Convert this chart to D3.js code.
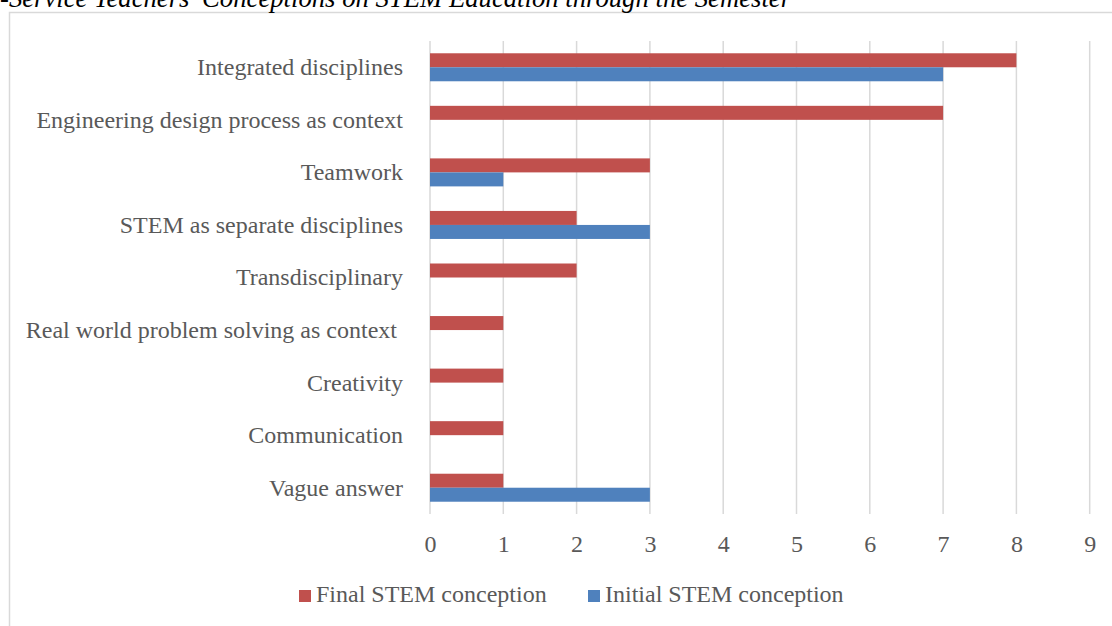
<!DOCTYPE html>
<html>
<head>
<meta charset="utf-8">
<script src="https://cdn.jsdelivr.net/npm/d3@7"></script>
<style>
  html, body { margin: 0; padding: 0; background: #fff; overflow: hidden; }
  svg { display: block; }
  text { font-family: "Liberation Serif", "Times New Roman", serif; }
</style>
</head>
<body>
<script>
const categories = [
  "Integrated disciplines",
  "Engineering design process as context",
  "Teamwork",
  "STEM as separate disciplines",
  "Transdisciplinary",
  "Real world problem solving as context ",
  "Creativity",
  "Communication",
  "Vague answer"
];
const finalValues   = [8, 7, 3, 2, 2, 1, 1, 1, 1];
const initialValues = [7, 0, 1, 3, 0, 0, 0, 0, 3];
const xTicks = [0, 1, 2, 3, 4, 5, 6, 7, 8, 9];
const seriesNames = ["Final STEM conception", "Initial STEM conception"];
const seriesColors = ["#c0504d", "#4f81bd"];
const titleText = "-Service Teachers\u2019 Conceptions on STEM Education through the Semester";

const W = 1112, H = 626;
const svg = d3.select("body").append("svg").attr("width", W).attr("height", H);

// frame
svg.append("rect").attr("x", 9.5).attr("y", 12.5).attr("width", W + 20).attr("height", H + 20)
  .attr("fill", "none").attr("stroke", "#d9d9d9").attr("stroke-width", 1.5);

// title (clipped by the page top, as in the reference)
svg.append("text").attr("x", 0).attr("y", 7)
  .attr("font-size", 26.7).attr("font-style", "italic").attr("fill", "#000")
  .text(titleText);

const x = d3.scaleLinear().domain([0, 9]).range([430, 1089.7]);
const y = d3.scaleBand().domain(categories).range([41, 514]).paddingInner(0).paddingOuter(0);
const barH = 14;

// gridlines
svg.append("g").selectAll("line").data(xTicks).join("line")
  .attr("x1", d => x(d)).attr("x2", d => x(d))
  .attr("y1", 41).attr("y2", 514)
  .attr("stroke", "#d9d9d9").attr("stroke-width", 1.5);

// bars
const rows = categories.map((c, i) => ({ c, f: finalValues[i], ini: initialValues[i] }));
const gBars = svg.append("g");
gBars.selectAll("rect.final").data(rows.filter(d => d.f > 0)).join("rect")
  .attr("class", "final")
  .attr("x", x(0)).attr("width", d => x(d.f) - x(0))
  .attr("y", d => y(d.c) + y.bandwidth() / 2 - barH).attr("height", barH)
  .attr("fill", seriesColors[0]);
gBars.selectAll("rect.initial").data(rows.filter(d => d.ini > 0)).join("rect")
  .attr("class", "initial")
  .attr("x", x(0)).attr("width", d => x(d.ini) - x(0))
  .attr("y", d => y(d.c) + y.bandwidth() / 2).attr("height", barH)
  .attr("fill", seriesColors[1]);

// category labels
const yAxis = d3.axisLeft(y).tickSize(0).tickPadding(0);
const gy = svg.append("g").attr("transform", "translate(403,0)").call(yAxis);
gy.select(".domain").remove();
gy.selectAll("text").attr("font-size", 24).attr("fill", "#595959")
  .attr("font-family", "Liberation Serif, Times New Roman, serif")
  .style("white-space", "pre").attr("dy", "0.33em").attr("x", 0);

// x axis labels
const xAxis = d3.axisBottom(x).tickValues(xTicks).tickSize(0).tickPadding(0).tickFormat(d3.format("d"));
const gx = svg.append("g").attr("transform", "translate(0,552)").call(xAxis);
gx.select(".domain").remove();
gx.selectAll("text").attr("font-size", 24).attr("fill", "#595959")
  .attr("font-family", "Liberation Serif, Times New Roman, serif")
  .attr("dy", 0).attr("y", 0);

// legend
const legendX = [299, 588];
const lg = svg.append("g");
seriesNames.forEach((name, i) => {
  lg.append("rect").attr("x", legendX[i]).attr("y", 590).attr("width", 12).attr("height", 12)
    .attr("fill", seriesColors[i]);
  lg.append("text").attr("x", legendX[i] + 17).attr("y", 602)
    .attr("font-size", 24).attr("fill", "#595959").text(name);
});
</script>
</body>
</html>
